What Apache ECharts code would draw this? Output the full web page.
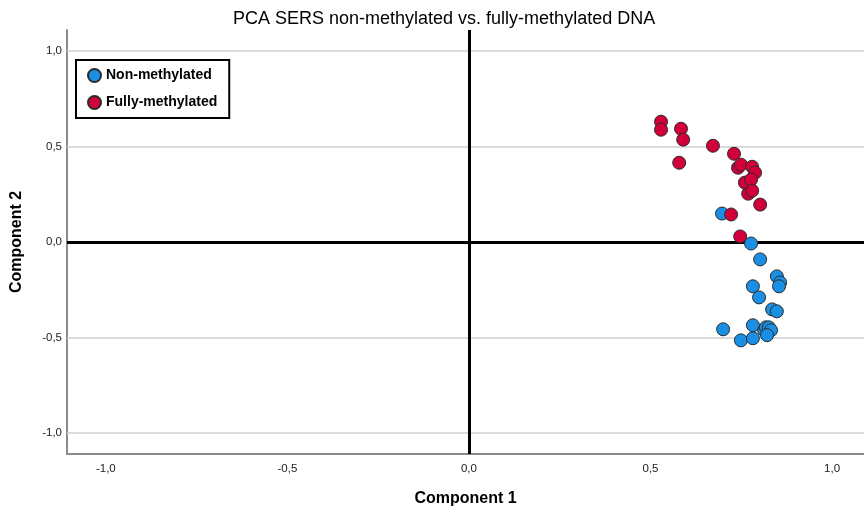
<!DOCTYPE html>
<html><head><meta charset="utf-8">
<script src="https://cdn.jsdelivr.net/npm/echarts@6/dist/echarts.min.js"></script>
<style>html,body{margin:0;padding:0;background:#fff}#c{width:864px;height:509px}</style>
</head><body><div id="c"></div>
<script>
const titleText = 'PCA SERS non-methylated vs. fully-methylated DNA';
const xName = 'Component 1';
const yName = 'Component 2';
const tickValues = [-1.0, -0.5, 0.0, 0.5, 1.0];
const seriesNames = ['Non-methylated', 'Fully-methylated'];

const nonMethX = [0.697,0.777,0.802,0.848,0.857,0.854,0.782,0.799,0.835,0.848,0.700,0.749,0.782,0.782,0.813,0.818,0.826,0.832,0.821];
const nonMethY = [0.149,-0.008,-0.091,-0.180,-0.212,-0.232,-0.232,-0.290,-0.353,-0.363,-0.457,-0.515,-0.504,-0.436,-0.462,-0.447,-0.447,-0.462,-0.488];
const fullMethX = [0.529,0.529,0.584,0.590,0.672,0.579,0.730,0.741,0.749,0.780,0.788,0.760,0.777,0.769,0.780,0.802,0.722,0.747];
const fullMethY = [0.630,0.588,0.593,0.536,0.504,0.415,0.462,0.389,0.405,0.394,0.363,0.311,0.327,0.253,0.269,0.196,0.144,0.029];

const fmt = v => v.toFixed(1).replace('.', ',');
const zip = (a, b) => a.map((v, i) => [v, b[i]]);
const font = 'Liberation Sans, Arial, sans-serif';

const chart = echarts.init(document.getElementById('c'));
chart.setOption({
  backgroundColor: '#fff',
  animation: false,
  title: { text: titleText, left: 228, top: 5,
    textStyle: { fontFamily: font, fontSize: 18, fontWeight: 'normal', color: '#000' } },
  legend: {
    left: 76, top: 60, orient: 'vertical',
    borderColor: '#000', borderWidth: 2, padding: [8, 12, 8, 11],
    itemGap: 12, itemWidth: 13, itemHeight: 13, icon: 'circle',
    textStyle: { fontFamily: font, fontSize: 14, fontWeight: 'bold', color: '#000' },
    data: seriesNames
  },
  grid: { left: 67, right: 0, top: 30, bottom: 55, outerBoundsMode: 'none', containLabel: false },
  xAxis: {
    type: 'value', min: -1.107, max: 1.088,
    name: xName, nameLocation: 'middle', nameGap: 37,
    nameTextStyle: { fontFamily: font, fontSize: 16, fontWeight: 'bold', color: '#000' },
    axisLine: { onZero: false, lineStyle: { color: '#8c8c8c', width: 2 } },
    axisTick: { show: false },
    splitLine: { show: false },
    axisLabel: { customValues: tickValues, formatter: fmt, margin: 9,
      fontFamily: font, fontSize: 11.5, color: '#222' }
  },
  yAxis: {
    type: 'value', min: -1.11, max: 1.11,
    name: yName, nameLocation: 'middle', nameGap: 42, nameRotate: 90,
    nameTextStyle: { fontFamily: font, fontSize: 16, fontWeight: 'bold', color: '#000' },
    axisLine: { onZero: false, lineStyle: { color: '#8c8c8c', width: 2 } },
    axisTick: { show: false },
    splitLine: { show: false },
    axisLabel: { customValues: tickValues, formatter: fmt, margin: 5,
      fontFamily: font, fontSize: 11.5, color: '#222' }
  },
  series: [
    {
      type: 'scatter', name: '_grid', silent: true, data: [], legendHoverLink: false,
      markLine: { silent: true, symbol: 'none', label: { show: false },
        lineStyle: { color: '#cfcfcf', width: 1.5, type: 'solid' },
        data: tickValues.filter(v => v !== 0).map(v => ({ yAxis: v })) },
      z: 1
    },
    {
      type: 'scatter', name: '_zero', silent: true, data: [],
      markLine: { silent: true, symbol: 'none', label: { show: false },
        lineStyle: { color: '#000', width: 3, type: 'solid' },
        data: [{ xAxis: 0 }, { yAxis: 0 }] },
      z: 2
    },
    {
      type: 'scatter', name: seriesNames[0], data: zip(nonMethX, nonMethY),
      symbolSize: 13,
      itemStyle: { color: '#1a8fe3', borderColor: '#2b2b2b', borderWidth: 1, opacity: 1 },
      z: 5
    },
    {
      type: 'scatter', name: seriesNames[1], data: zip(fullMethX, fullMethY),
      symbolSize: 13,
      itemStyle: { color: '#d2003a', borderColor: '#2b2b2b', borderWidth: 1, opacity: 1 },
      z: 5
    }
  ]
});
</script></body></html>
